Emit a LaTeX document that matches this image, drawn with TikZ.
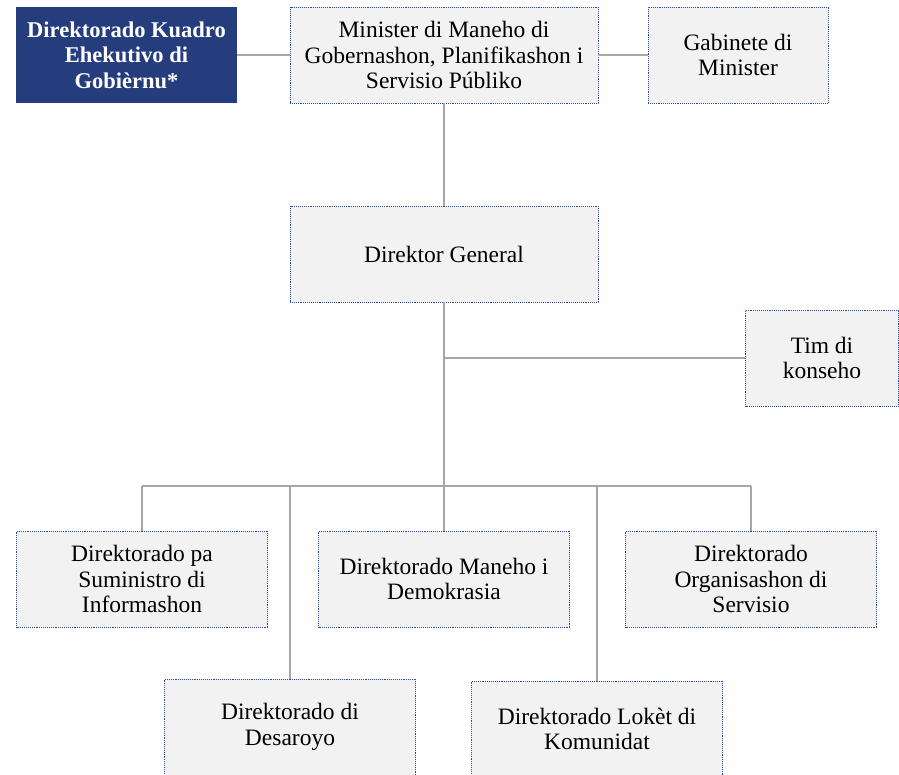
\documentclass[tikz,border=0pt]{standalone}
\usepackage{fontspec}
\setmainfont{Liberation Serif}
\definecolor{navy}{RGB}{38,61,125}
\definecolor{boxline}{RGB}{47,74,154}
\definecolor{boxfill}{RGB}{242,242,242}
\definecolor{conn}{RGB}{166,166,166}
\tikzset{
  orgbox/.style={draw=boxline, densely dotted, line width=0.9pt, fill=boxfill, align=center,
    minimum height=96pt, inner sep=2pt, font=\fontsize{23.5}{25.5}\selectfont},
  darkbox/.style={fill=navy, text=white, align=center, minimum height=96pt, inner sep=2pt,
    font=\fontsize{22.5}{25.5}\selectfont\bfseries},
  link/.style={draw=conn, line width=2pt}
}
\begin{document}
\begin{tikzpicture}[x=1pt,y=-1pt]
\clip (0,0) rectangle (899,775);
\fill[white] (0,0) rectangle (899,775);
\node[darkbox, minimum width=221pt] (dkg) at (126.5,55) {Direktorado Kuadro\\Ehekutivo di\\Gobièrnu*};
\node[orgbox, minimum width=308pt] (min) at (444,55) {Minister di Maneho di\\Gobernashon, Planifikashon i\\Servisio Públiko};
\node[orgbox, minimum width=180pt] (gab) at (738,55) {Gabinete di\\Minister};
\node[orgbox, minimum width=308pt] (dg) at (444,254) {Direktor General};
\node[orgbox, minimum width=153pt] (tim) at (822,358) {Tim di\\konseho};
\node[orgbox, minimum width=251pt] (sum) at (142,579) {Direktorado pa\\Suministro di\\Informashon};
\node[orgbox, minimum width=251pt] (dem) at (444,579) {Direktorado Maneho i\\Demokrasia};
\node[orgbox, minimum width=251pt] (org) at (751,579) {Direktorado\\Organisashon di\\Servisio};
\node[orgbox, minimum width=251pt] (des) at (290,727) {Direktorado di\\Desaroyo};
\node[orgbox, minimum width=251pt] (lok) at (597,729) {Direktorado Lokèt di\\Komunidat};
\coordinate (bar) at (444,486);
\coordinate (jt) at (444,358);
\draw[link] (dkg.east) -- (min.west);
\draw[link] (min.east) -- (gab.west);
\draw[link] (min.south) -- (dg.north);
\draw[link] (dg.south) -- (dem.north);
\draw[link] (jt) -- (tim.west);
\draw[link] (sum.north |- bar) -- (org.north |- bar);
\draw[link] (sum.north |- bar) -- (sum.north);
\draw[link] (des.north |- bar) -- (des.north);
\draw[link] (lok.north |- bar) -- (lok.north);
\draw[link] (org.north |- bar) -- (org.north);
\end{tikzpicture}
\end{document}
